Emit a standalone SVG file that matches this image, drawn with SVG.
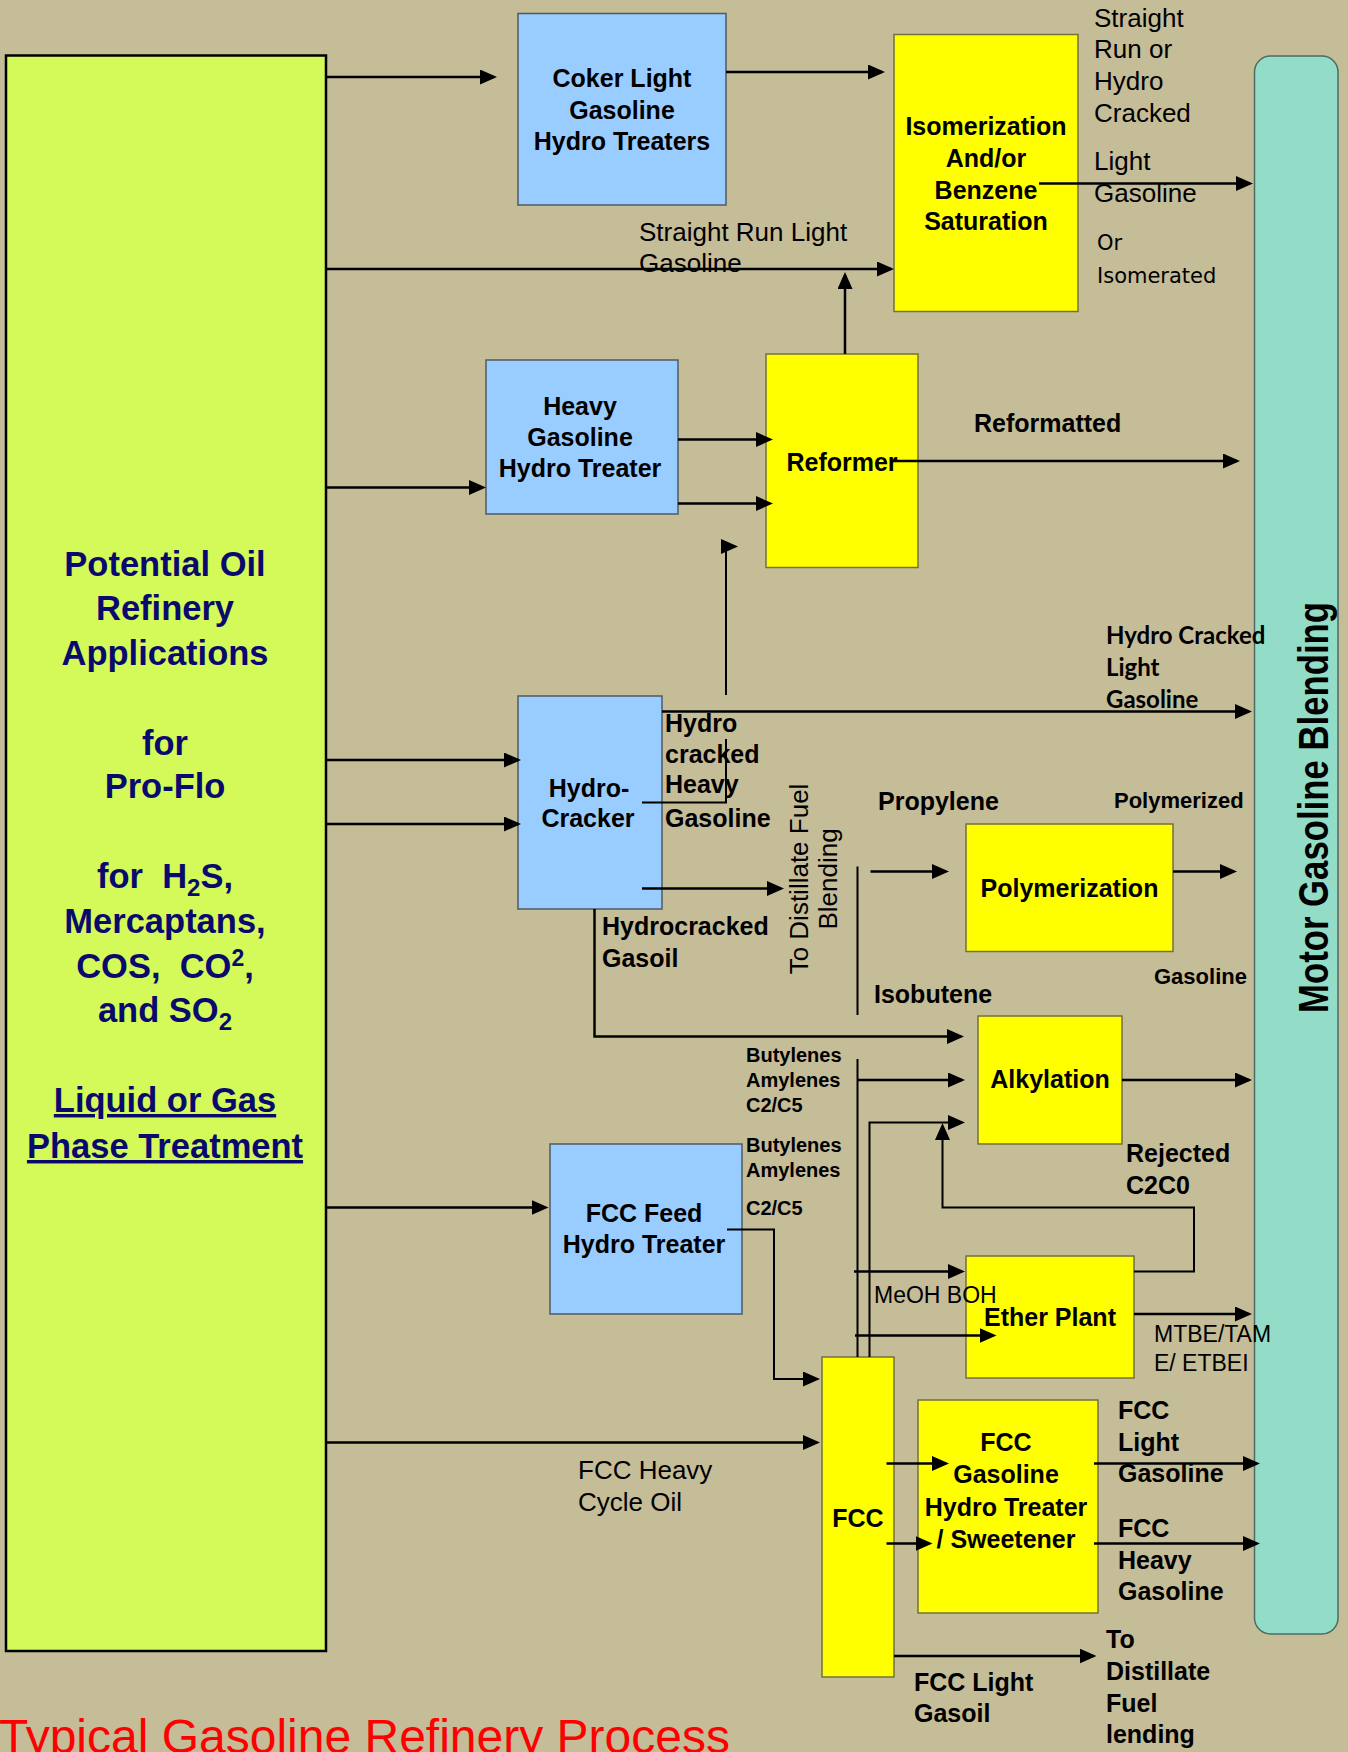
<svg xmlns="http://www.w3.org/2000/svg" width="1348" height="1752" viewBox="0 0 1348 1752">
<defs>
<marker id="ah" markerUnits="userSpaceOnUse" markerWidth="18" markerHeight="16" refX="14" refY="7.5" orient="auto"><path d="M0,0 L17,7.5 L0,15 z" fill="#000"/></marker>
<style>
.bg{fill:#C5BC98}
.src{fill:#D3FA58;stroke:#000;stroke-width:2.5}
.blue{fill:#99CCFF;stroke:#4F5A66;stroke-width:1.5}
.yel{fill:#FFFF00;stroke:#74703E;stroke-width:1.5}
.mot{fill:#93DCC8;stroke:#4C6B62;stroke-width:1.5}
.ca{fill:none;stroke:#000;stroke-width:2.5;marker-end:url(#ah)}
.t{fill:none;stroke:#000;stroke-width:2}
text{font-family:"Liberation Sans",Arial,sans-serif;fill:#000}
.b{font-weight:bold;font-size:25px}
.b22{font-weight:bold;font-size:22px}
.bm{font-weight:bold;font-size:25px;text-anchor:middle}
.r{font-size:26px}
.s{font-weight:bold;font-size:20px}
.nv{font-weight:bold;font-size:34.5px;fill:#0A0A6E;text-anchor:middle}
.cal{font-family:Lato,"Liberation Sans",sans-serif;font-weight:bold;font-size:24px}
.dv{font-family:"DejaVu Sans",sans-serif;font-size:21px}
.th{font-size:23px}
.ttl{font-size:48px;fill:#FF0000}
</style>
</defs>
<rect class="bg" x="0" y="0" width="1348" height="1752"/>

<g id="source">
<rect class="src" x="6" y="55.5" width="320" height="1595.5"/>
<text class="nv" x="165" y="576">Potential Oil</text>
<text class="nv" x="165" y="620">Refinery</text>
<text class="nv" x="165" y="665">Applications</text>
<text class="nv" x="165" y="755">for</text>
<text class="nv" x="165" y="798">Pro-Flo</text>
<text class="nv" x="165" y="888" xml:space="preserve">for  H<tspan style="font-size:24px" dy="8">2</tspan><tspan dy="-8">S,</tspan></text>
<text class="nv" x="165" y="933">Mercaptans,</text>
<text class="nv" x="165" y="978" xml:space="preserve">COS,  CO<tspan style="font-size:23px" dy="-12">2</tspan><tspan dy="12">,</tspan></text>
<text class="nv" x="165" y="1022">and SO<tspan style="font-size:24px" dy="8">2</tspan></text>
<text class="nv" x="165" y="1112" text-decoration="underline">Liquid or Gas</text>
<text class="nv" x="165" y="1158" text-decoration="underline">Phase Treatment</text>
</g>

<g id="coker">
<rect class="blue" x="518" y="13.5" width="208" height="191.5"/>
<text class="bm" x="622" y="87">Coker Light</text>
<text class="bm" x="622" y="118.5">Gasoline</text>
<text class="bm" x="622" y="150">Hydro Treaters</text>
</g>

<g id="isomerization">
<rect class="yel" x="894" y="34.5" width="184" height="277"/>
<text class="bm" x="986" y="135">Isomerization</text>
<text class="bm" x="986" y="167">And/or</text>
<text class="bm" x="986" y="199">Benzene</text>
<text class="bm" x="986" y="230">Saturation</text>
</g>

<g id="heavy-gasoline-ht">
<rect class="blue" x="486" y="360" width="192" height="154"/>
<text class="bm" x="580" y="415">Heavy</text>
<text class="bm" x="580" y="446">Gasoline</text>
<text class="bm" x="580" y="477">Hydro Treater</text>
</g>

<g id="reformer">
<rect class="yel" x="766" y="354" width="152" height="213.5"/>
<text class="bm" x="842" y="471">Reformer</text>
</g>

<g id="hydrocracker">
<rect class="blue" x="518" y="696" width="144" height="213"/>
<text class="bm" x="589" y="797">Hydro-</text>
<text class="bm" x="588" y="827">Cracker</text>
</g>

<g id="polymerization">
<rect class="yel" x="966" y="824" width="207" height="127.5"/>
<text class="bm" x="1069.5" y="897">Polymerization</text>
</g>

<g id="alkylation">
<rect class="yel" x="978" y="1016" width="144" height="128"/>
<text class="bm" x="1050" y="1088">Alkylation</text>
</g>

<g id="fcc-feed-ht">
<rect class="blue" x="550" y="1144" width="192" height="170"/>
<text class="bm" x="644" y="1222">FCC Feed</text>
<text class="bm" x="644" y="1253">Hydro Treater</text>
</g>

<g id="ether-plant">
<rect class="yel" x="966" y="1256" width="168" height="122"/>
<text class="bm" x="1050" y="1326">Ether Plant</text>
</g>

<g id="fcc">
<rect class="yel" x="822" y="1357" width="72" height="320"/>
<text class="bm" x="858" y="1527">FCC</text>
</g>

<g id="fcc-gasoline-ht">
<rect class="yel" x="918" y="1400" width="180" height="213"/>
<text class="bm" x="1006" y="1451">FCC</text>
<text class="bm" x="1006" y="1483">Gasoline</text>
<text class="bm" x="1006" y="1516">Hydro Treater</text>
<text class="bm" x="1006" y="1548">/ Sweetener</text>
</g>

<g id="motor-gasoline-blending">
<rect class="mot" x="1254.5" y="56" width="83.5" height="1578" rx="16" ry="16"/>
<text transform="translate(1328,1013) rotate(-90)" font-weight="bold" font-size="43" textLength="411" lengthAdjust="spacingAndGlyphs">Motor Gasoline Blending</text>
</g>

<g id="connectors">
<path class="ca" d="M326,77 H494"/>
<path class="ca" d="M726,72 H882"/>
<path class="ca" d="M326,269 H891"/>
<path class="ca" d="M326,487.5 H483"/>
<path class="ca" d="M678,439.5 H770"/>
<path class="ca" d="M678,503.5 H770"/>
<path class="ca" d="M845,354 V275"/>
<path class="ca" d="M1039,183.5 H1250"/>
<path class="ca" d="M891,461 H1237"/>
<path class="t" d="M726,695 V546.5 H735" marker-end="url(#ah)"/>
<path class="t" d="M642,802.5 H726 V739"/>
<path class="ca" d="M326,760 H518"/>
<path class="ca" d="M326,824 H518"/>
<path class="ca" d="M662,711.5 H1249"/>
<path class="ca" d="M642,888.5 H781"/>
<path class="t" d="M857.5,866.5 V1015"/>
<path class="ca" d="M870.5,871.5 H946"/>
<path class="ca" d="M1173,871.5 H1234"/>
<path class="ca" d="M594.5,909 V1036.5 H961"/>
<path class="t" d="M857.5,1059 V1357"/>
<path class="ca" d="M857.5,1080 H962"/>
<path class="t" d="M869.5,1357 V1122.5 H962" marker-end="url(#ah)"/>
<path class="ca" d="M1122,1080 H1249"/>
<path class="t" d="M1134,1271.5 H1194 V1207.5 H942.5 V1126" marker-end="url(#ah)"/>
<path class="ca" d="M854,1271.5 H962"/>
<path class="ca" d="M855,1335.5 H993.5"/>
<path class="ca" d="M1134,1314 H1249"/>
<path class="ca" d="M326,1207.5 H545.5"/>
<path class="t" d="M727,1229.5 H774 V1379 H817" marker-end="url(#ah)"/>
<path class="ca" d="M326,1442.5 H817"/>
<path class="ca" d="M886.5,1463.5 H946"/>
<path class="ca" d="M886.5,1543.5 H929.5"/>
<path class="ca" d="M1094,1463.5 H1257"/>
<path class="ca" d="M1094,1543.5 H1257"/>
<path class="ca" d="M894,1656 H1093.5"/>
</g>

<g id="labels">
<text class="r" x="1094" y="27">Straight</text>
<text class="r" x="1094" y="58">Run or</text>
<text class="r" x="1094" y="90">Hydro</text>
<text class="r" x="1094" y="122">Cracked</text>
<text class="r" x="1094" y="170">Light</text>
<text class="r" x="1094" y="202">Gasoline</text>
<text class="dv" x="1097" y="250">Or</text>
<text class="dv" x="1097" y="283">Isomerated</text>
<text class="r" x="639" y="241">Straight Run Light</text>
<text class="r" x="639" y="272">Gasoline</text>
<text class="b" x="974" y="432">Reformatted</text>
<text class="cal" x="1106" y="644">Hydro Cracked</text>
<text class="cal" x="1106" y="676">Light</text>
<text class="cal" x="1106" y="708">Gasoline</text>
<text class="b" x="665" y="732">Hydro</text>
<text class="b" x="665" y="763">cracked</text>
<text class="b" x="665" y="793">Heavy</text>
<text class="b" x="665" y="827">Gasoline</text>
<text class="r" transform="translate(808,879) rotate(-90)" text-anchor="middle">To Distillate Fuel</text>
<text class="r" transform="translate(837,879) rotate(-90)" text-anchor="middle">Blending</text>
<text class="b" x="878" y="810">Propylene</text>
<text class="b22" x="1114" y="808">Polymerized</text>
<text class="b22" x="1154" y="984">Gasoline</text>
<text class="b" x="874" y="1003">Isobutene</text>
<text class="b" x="602" y="935">Hydrocracked</text>
<text class="b" x="602" y="967">Gasoil</text>
<text class="s" x="746" y="1062">Butylenes</text>
<text class="s" x="746" y="1087">Amylenes</text>
<text class="s" x="746" y="1112">C2/C5</text>
<text class="s" x="746" y="1152">Butylenes</text>
<text class="s" x="746" y="1177">Amylenes</text>
<text class="s" x="746" y="1215">C2/C5</text>
<text class="b" x="1126" y="1162">Rejected</text>
<text class="b" x="1126" y="1194">C2C0</text>
<text class="th" x="874" y="1303">MeOH BOH</text>
<text class="th" x="1154" y="1342">MTBE/TAM</text>
<text class="th" x="1154" y="1371">E/ ETBEI</text>
<text class="r" x="578" y="1479">FCC Heavy</text>
<text class="r" x="578" y="1511">Cycle Oil</text>
<text class="b" x="1118" y="1419">FCC</text>
<text class="b" x="1118" y="1451">Light</text>
<text class="b" x="1118" y="1482">Gasoline</text>
<text class="b" x="1118" y="1537">FCC</text>
<text class="b" x="1118" y="1569">Heavy</text>
<text class="b" x="1118" y="1600">Gasoline</text>
<text class="b" x="914" y="1691">FCC Light</text>
<text class="b" x="914" y="1722">Gasoil</text>
<text class="b" x="1106" y="1648">To</text>
<text class="b" x="1106" y="1680">Distillate</text>
<text class="b" x="1106" y="1712">Fuel</text>
<text class="b" x="1106" y="1743">lending</text>
</g>

<g id="title">
<text class="ttl" x="-1" y="1753">Typical Gasoline Refinery Process</text>
</g>
</svg>
